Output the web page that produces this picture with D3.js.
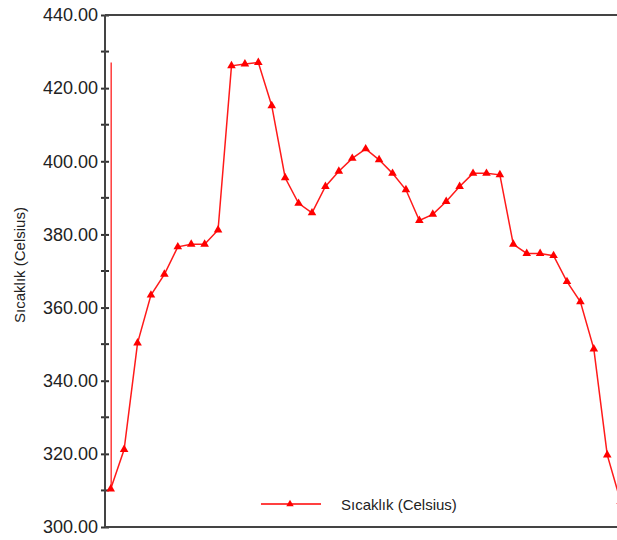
<!DOCTYPE html>
<html lang="en">
<head>
    <meta charset="UTF-8">
    <title>Sıcaklık (Celsius)</title>
    <script src="https://d3js.org/d3.v7.min.js"></script>
    <style>
        body {
            margin: 0;
            background: #fff;
            font-family: "Liberation Sans", Arial, sans-serif;
        }
        .line {
            fill: none;
            stroke-width: 1.5;
        }
    </style>
</head>
<body>
    <div id="chart"></div>
    <script>
        // temperature readings, one per sample
        const seriesName = "Sıcaklık (Celsius)";
        const temps = [310.4, 321.2, 350.3, 363.4, 369.1, 376.6, 377.3, 377.3, 381.2, 426.1,
                       426.6, 427.0, 415.2, 395.5, 388.5, 385.9, 393.1, 397.3, 400.8, 403.4,
                       400.4, 396.7, 392.2, 383.8, 385.5, 389.0, 393.1, 396.7, 396.7, 396.3,
                       377.3, 374.8, 374.8, 374.2, 367.1, 361.6, 348.7, 319.7, 307.0];
        const yTicks = [300, 320, 340, 360, 380, 400, 420, 440];
        const yMinorTicks = [310, 330, 350, 370, 390, 410, 430];

        const width = 617, height = 540;
        const axisX = 105;

        const svg = d3.select("#chart")
            .append("svg")
            .attr("width", width)
            .attr("height", height);

        const xScale = d3.scaleLinear()
            .domain([0, temps.length - 1])
            .range([110.7, 110.7 + (temps.length - 1) * 13.42]);

        const yScale = d3.scaleLinear()
            .domain([300, 440])
            .range([527, 15]);

        // y axis with labels
        const yAxis = svg.append("g")
            .attr("transform", `translate(${axisX},0)`)
            .call(d3.axisLeft(yScale)
                .tickValues(yTicks)
                .tickFormat(d3.format(".2f"))
                .tickSize(4)
                .tickPadding(3));
        yAxis.select(".domain").remove();
        yAxis.selectAll(".tick line").attr("x2", 4).attr("x1", -4)
            .attr("stroke", "#333").attr("stroke-width", 2);
        yAxis.selectAll(".tick text")
            .attr("font-family", "Liberation Sans, Arial, sans-serif")
            .attr("font-size", 18)
            .attr("fill", "#222");

        // minor ticks
        svg.append("g").selectAll("line")
            .data(yMinorTicks)
            .enter()
            .append("line")
            .attr("x1", axisX - 4)
            .attr("x2", axisX + 4)
            .attr("y1", d => yScale(d))
            .attr("y2", d => yScale(d))
            .attr("stroke", "#333")
            .attr("stroke-width", 2);

        // frame: left, top, bottom
        svg.append("line")
            .attr("x1", axisX).attr("x2", axisX)
            .attr("y1", yScale(440)).attr("y2", yScale(300))
            .attr("stroke", "#444").attr("stroke-width", 2);
        svg.append("line")
            .attr("x1", axisX).attr("x2", width)
            .attr("y1", yScale(440)).attr("y2", yScale(440))
            .attr("stroke", "#444").attr("stroke-width", 2);
        svg.append("line")
            .attr("x1", axisX).attr("x2", width)
            .attr("y1", yScale(300)).attr("y2", yScale(300))
            .attr("stroke", "#444").attr("stroke-width", 2);

        // y title
        svg.append("text")
            .attr("transform", `translate(25,265) rotate(-90)`)
            .attr("text-anchor", "middle")
            .attr("font-size", 15)
            .attr("fill", "#222")
            .text(seriesName);

        // vertical marker line at first sample
        svg.append("line")
            .attr("x1", xScale(0) + 0.5).attr("x2", xScale(0) + 0.5)
            .attr("y1", yScale(d3.max(temps)))
            .attr("y2", yScale(temps[0]))
            .attr("stroke", "#ff3b3b")
            .attr("stroke-width", 1.5);

        const line = d3.line()
            .x((d, i) => xScale(i))
            .y(d => yScale(d));

        svg.append("path")
            .datum(temps)
            .attr("class", "line")
            .attr("stroke", "#ff1a1a")
            .attr("d", line);

        const tri = d3.symbol().type(d3.symbolTriangle).size(32);

        svg.selectAll(".dot")
            .data(temps)
            .enter()
            .append("path")
            .attr("class", "dot")
            .attr("d", tri)
            .attr("transform", (d, i) => `translate(${xScale(i)},${yScale(d)})`)
            .attr("fill", "red");

        // legend
        const legend = svg.append("g").attr("transform", "translate(261,504)");
        legend.append("line")
            .attr("x1", 0).attr("x2", 60)
            .attr("stroke", "red").attr("stroke-width", 1.5);
        legend.append("path")
            .attr("d", d3.symbol().type(d3.symbolTriangle).size(24))
            .attr("transform", "translate(29,0)")
            .attr("fill", "red");
        legend.append("text")
            .attr("x", 80)
            .attr("y", 6)
            .attr("font-size", 15)
            .attr("fill", "#222")
            .text(seriesName);
    </script>
</body>
</html>
